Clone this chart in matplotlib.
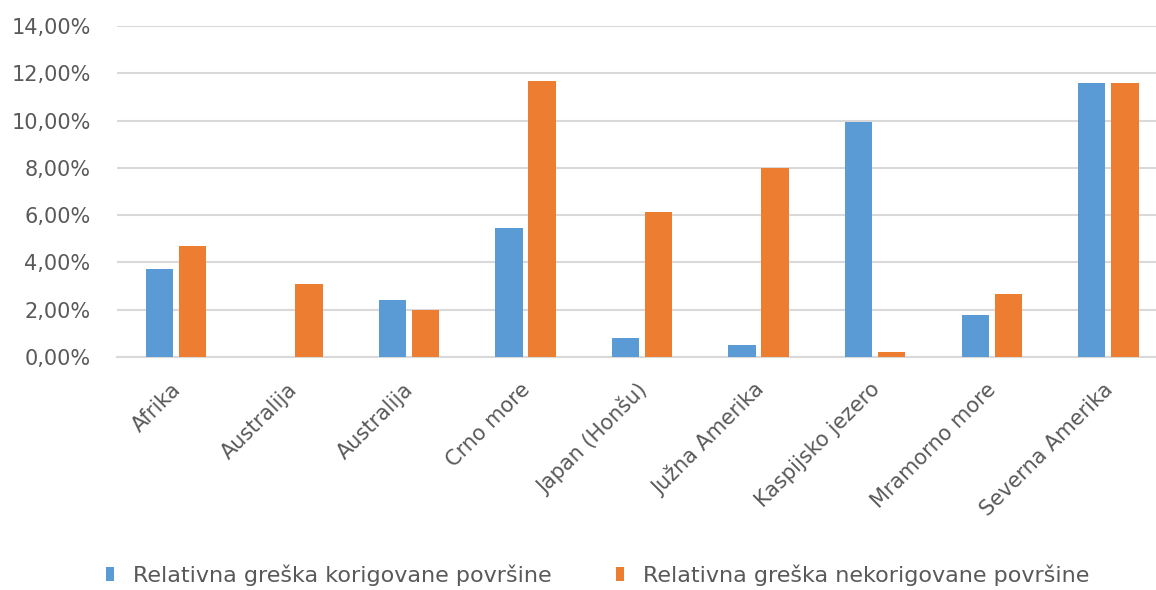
import matplotlib
matplotlib.use("Agg")
import matplotlib.pyplot as plt
import matplotlib.transforms as mtransforms
import numpy as np
from matplotlib.ticker import FuncFormatter

categories = ["Afrika", "Australija", "Australija", "Crno more", "Japan (Honšu)",
              "Južna Amerika", "Kaspijsko jezero", "Mramorno more", "Severna Amerika"]
corrected = [3.73, 0.0, 2.40, 5.46, 0.82, 0.51, 9.95, 1.78, 11.59]
uncorrected = [4.69, 3.10, 1.98, 11.69, 6.14, 7.99, 0.23, 2.65, 11.59]
series_names = ["Relativna greška korigovane površine",
                "Relativna greška nekorigovane površine"]
y_ticks = [0, 2, 4, 6, 8, 10, 12, 14]

plt.rcParams["font.family"] = ["DejaVu Sans"]

fig = plt.figure(figsize=(11.56, 5.90), dpi=100)
# plot area runs slightly past the right edge of the canvas
ax = fig.add_axes([117 / 1156, 1 - 357 / 590, 1049 / 1156, 331 / 590])

x = np.arange(len(categories))
w = 0.235
b1 = ax.bar(x - 0.137, corrected, w, color="#5B9BD5", label=series_names[0], zorder=3)
b2 = ax.bar(x + 0.147, uncorrected, w, color="#ED7D31", label=series_names[1], zorder=3)

ax.set_xlim(-0.5, len(categories) - 0.5)
ax.set_ylim(0, 14)
ax.set_yticks(y_ticks)
ax.yaxis.set_major_formatter(FuncFormatter(lambda v, p: f"{v:.2f}%".replace(".", ",")))
ax.grid(axis="y", color="#d9d9d9", linewidth=1.5, zorder=0)
for s in ["top", "right", "left"]:
    ax.spines[s].set_visible(False)
ax.spines["bottom"].set_color("#d9d9d9")
ax.spines["bottom"].set_linewidth(1.5)
ax.tick_params(axis="both", length=0, labelsize=15, colors="#595959")
ax.tick_params(axis="y", pad=19)
ax.set_xticks(x)
ax.set_xticklabels(categories, rotation=45, ha="right", va="top", rotation_mode="anchor")
ax.tick_params(axis="x", pad=16)
shift = mtransforms.ScaledTranslation(-5 / 100, 0, fig.dpi_scale_trans)
for lbl in ax.get_xticklabels():
    lbl.set_transform(lbl.get_transform() + shift)

fig.legend(handles=[b1, b2], labels=series_names, loc="lower center",
           bbox_to_anchor=(0.517, -0.027), ncol=2, frameon=False,
           fontsize=16, labelcolor="#595959", columnspacing=2.9,
           handlelength=0.36, handleheight=0.6, handletextpad=0.85)

fig.savefig("out.png", dpi=100)
